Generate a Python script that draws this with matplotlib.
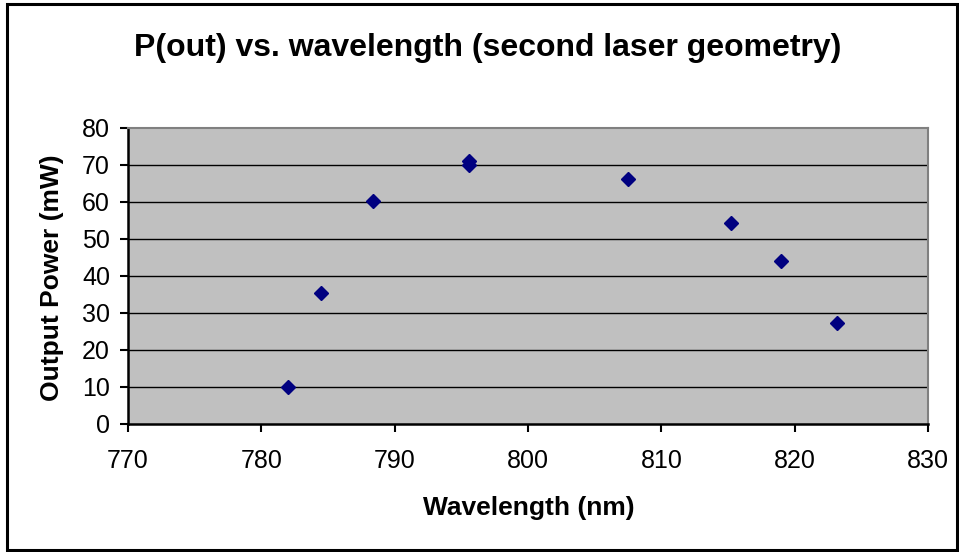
import matplotlib.pyplot as plt
from matplotlib.patches import Rectangle

# data
wavelength = [782.0, 784.5, 788.4, 795.6, 795.6, 807.5, 815.2, 819.0, 823.2]
power = [10.0, 35.3, 60.2, 71.0, 70.0, 66.2, 54.2, 43.9, 27.1]

x_ticks = [770, 780, 790, 800, 810, 820, 830]
y_ticks = [0, 10, 20, 30, 40, 50, 60, 70, 80]

plt.rcParams['font.family'] = ['Liberation Sans', 'DejaVu Sans']

fig = plt.figure(figsize=(9.59, 5.52), dpi=100)
W, H = 959, 552

# outer chart border
fig.patches.append(Rectangle((7 / W, 2 / H), 950 / W, 546 / H,
                             transform=fig.transFigure, fill=False,
                             edgecolor='black', linewidth=2.2))

ax = fig.add_axes([128 / W, 1 - 423.5 / H, 800 / W, 296 / H])
ax.set_facecolor('#C0C0C0')

for y in y_ticks[1:-1]:
    ax.axhline(y, color='black', linewidth=1.0, zorder=1)

ax.plot(wavelength, power, linestyle='none', marker='D', markersize=6.8,
        color='#000080', markeredgewidth=1, zorder=3)

ax.set_xlim(770, 830)
ax.set_ylim(0, 80)
ax.set_xticks(x_ticks)
ax.set_yticks(y_ticks)
ax.tick_params(axis='both', labelsize=18, colors='black', width=1.5)
ax.tick_params(axis='x', direction='out', length=6, pad=12)
ax.tick_params(axis='y', direction='out', length=6, pad=7)

ax.spines['left'].set_color('black')
ax.spines['bottom'].set_color('black')
ax.spines['left'].set_linewidth(1.8)
ax.spines['bottom'].set_linewidth(1.8)
ax.spines['top'].set_color('#808080')
ax.spines['right'].set_color('#808080')
ax.spines['top'].set_linewidth(1.5)
ax.spines['right'].set_linewidth(1.5)

fig.text(488 / W, 1 - 48 / H, 'P(out) vs. wavelength (second laser geometry)',
         ha='center', va='center', fontsize=23, fontweight='bold')
fig.text(529 / W, 1 - 508 / H, 'Wavelength (nm)', ha='center', va='center',
         fontsize=19, fontweight='bold')
fig.text(52 / W, 1 - 278 / H, 'Output Power (mW)', ha='center', va='center',
         rotation=90, fontsize=19, fontweight='bold')

fig.savefig('out.png', dpi=100)
